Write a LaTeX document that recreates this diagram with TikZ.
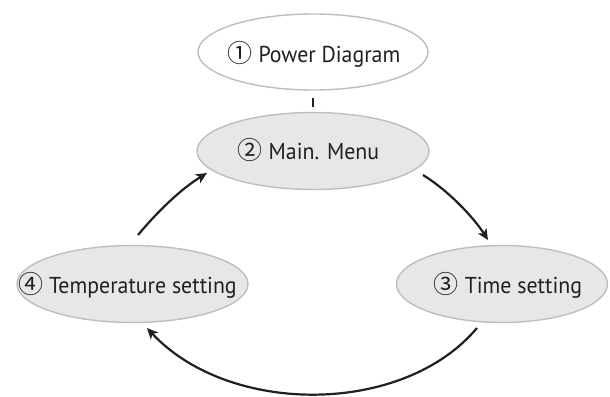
\documentclass[tikz,border=0pt]{standalone}
\usepackage{fontspec}
\setmainfont{PT Sans}[FakeStretch=0.95]
\newfontfamily\circfont{Noto Sans CJK JP}
\usetikzlibrary{shapes.geometric,arrows.meta,calc}
\definecolor{ellfill}{HTML}{E6E7E8}
\definecolor{elldraw}{HTML}{BCBEC0}
\definecolor{ink}{HTML}{231F20}
\tikzset{
  ell/.style={ellipse, draw=elldraw, line width=1.4pt, inner sep=0pt},
  lbl/.style={anchor=base, inner sep=0pt, text=ink, font=\fontsize{23}{28}\selectfont},
  arr/.style={draw=ink, line width=2.2pt, -{Stealth[length=11pt,width=10pt,inset=3pt]}},
  tick/.style={draw=ink, line width=1.8pt}
}
\newcommand{\cn}[1]{{\circfont\fontsize{25}{28}\selectfont #1}}
\begin{document}
\begin{tikzpicture}[x=1pt,y=-1pt]
\useasboundingbox (0,0) rectangle (610,396);
% ellipses
\node[ell, fill=white, minimum width=230pt, minimum height=76pt] (e1) at (313,52) {};
\node[ell, fill=ellfill, minimum width=232pt, minimum height=77pt] (e2) at (313,151) {};
\node[ell, fill=ellfill, minimum width=211pt, minimum height=77pt] (e3) at (502,284) {};
\node[ell, fill=ellfill, minimum width=231pt, minimum height=77pt] (e4) at (132.5,284) {};
% labels
\node[lbl] (t1) at (314,63) {\cn{①} Power Diagram};
\node[lbl] (t2) at (308.5,159) {\cn{②} Main. Menu};
\node[lbl] (t3) at (508,293) {\cn{③} Time setting};
\node[lbl] (t4) at (127.5,293) {\cn{④} Temperature setting};
% connectors
\draw[tick, shorten <=7pt, shorten >=4.5pt] (e1.south) -- (e2.north);
\draw[arr] ($(e4)+(5.5,-49)$) .. controls ($(e4)+(25.5,-73)$) and ($(e2)+(-132,38)$) .. ($(e2)+(-106,22)$);
\draw[arr] ($(e2)+(110,24)$) .. controls ($(e2)+(136,40)$) and ($(e3)+(-28,-66)$) .. ($(e3)+(-14,-44)$);
\draw[arr] ($(e3)+(-25,44)$) .. controls ($(e3)+(-99,132)$) and ($(e4)+(96.5,132)$) .. ($(e4)+(14.5,44)$);
\end{tikzpicture}
\end{document}
